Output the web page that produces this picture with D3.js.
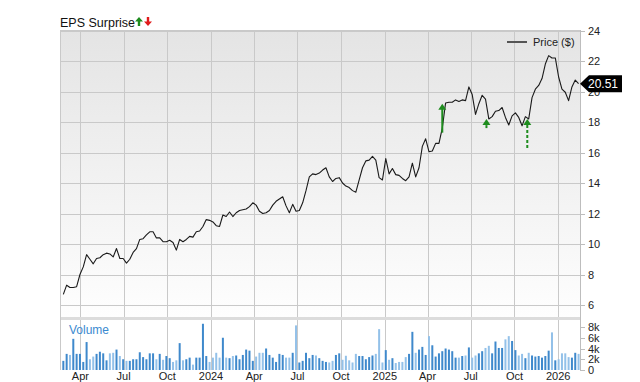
<!DOCTYPE html>
<html>
<head>
<meta charset="utf-8">
<script src="https://cdn.jsdelivr.net/npm/d3@7"></script>
<style>
  html, body { margin: 0; padding: 0; background: #fff; }
  svg { display: block; font-family: 'Liberation Sans', Arial, sans-serif; }
  .tick-label { font-size: 11px; fill: #222; }
</style>
</head>
<body>
<div id="chart"></div>
<script>
// weekly closes, first week ending 2023-02-24
const firstWeek = '2023-02-24'
const prices = [
  6.7, 7.3, 7.15, 7.15, 7.2, 8.0, 8.5, 9.3, 9.0, 8.7,
  9.05, 9.1, 9.3, 9.4, 9.35, 9.15, 9.7, 9.05, 9.05, 8.75,
  9.0, 9.45, 9.7, 10.3, 10.35, 10.6, 10.8, 10.8, 10.4, 10.4,
  10.15, 10.15, 10.25, 10.1, 9.6, 10.3, 10.15, 10.3, 10.5, 10.45,
  10.8, 10.85, 11.15, 11.6, 11.55, 11.45, 11.2, 11.15, 11.9, 11.8,
  12.1, 11.8, 12.05, 12.2, 12.25, 12.3, 12.45, 12.7, 12.55, 12.15,
  12.0, 12.05, 12.2, 12.55, 12.8, 12.95, 13.1, 12.5, 12.05, 12.6,
  12.15, 12.2, 12.7, 13.5, 14.4, 14.6, 14.55, 14.65, 14.85, 15.0,
  14.4, 14.1, 14.3, 14.35, 14.0, 13.8, 13.7, 13.5, 13.4, 14.2,
  15.0, 15.45, 15.5, 15.75, 15.5, 14.35, 14.2, 15.6, 14.6, 14.95,
  14.55, 14.5, 14.3, 14.15, 14.4, 15.3, 14.4, 15.0, 16.4, 16.9,
  16.05, 16.1, 16.6, 16.6, 17.6, 19.25, 19.3, 19.3, 19.45, 19.35,
  19.45, 19.4, 20.3, 19.8, 18.5, 19.2, 19.75, 19.5, 18.2, 18.35,
  18.7, 18.75, 18.95, 18.3, 17.8, 18.4, 18.6, 18.3, 17.75, 18.35,
  18.2, 19.6, 20.15, 20.4, 20.85, 21.8, 22.35, 22.2, 22.2, 20.95,
  20.15, 19.95, 19.4, 20.3, 20.75, 20.51,
]
// weekly volume, thousands
const volumeK = [
  1.7, 3.0, 2.8, 5.8, 3.0, 3.0, 1.5, 5.2, 2.0, 2.5,
  3.0, 3.4, 3.1, 1.8, 3.1, 3.2, 3.8, 2.6, 2.0, 1.7,
  1.7, 2.0, 2.0, 3.3, 2.4, 2.0, 3.1, 3.1, 2.0, 3.0,
  1.9, 2.6, 2.2, 1.5, 1.8, 5.0, 1.8, 2.0, 2.3, 1.0,
  2.3, 2.3, 8.6, 2.6, 1.5, 2.3, 3.2, 2.3, 6.0, 2.3,
  2.2, 2.6, 2.7, 2.0, 2.8, 3.8, 3.6, 1.7, 2.5, 3.2,
  3.2, 4.0, 2.8, 2.3, 1.5, 3.0, 2.8, 2.3, 2.3, 3.2,
  8.3, 1.4, 1.7, 3.2, 2.2, 2.8, 2.7, 2.2, 1.7, 1.5,
  1.4, 1.7, 2.8, 3.1, 1.9, 2.65, 1.8, 1.4, 3.0, 2.6,
  2.6, 2.0, 2.4, 2.7, 3.0, 7.6, 1.4, 3.7, 1.9, 2.2,
  1.3, 1.5, 1.5, 2.4, 3.0, 7.1, 3.2, 3.8, 4.3, 2.8,
  6.3, 4.6, 2.5, 3.1, 3.5, 4.0, 3.8, 3.5, 2.3, 2.3,
  2.6, 2.7, 4.2, 2.3, 2.7, 3.1, 3.5, 4.1, 4.5, 3.1,
  5.3, 4.1, 4.1, 5.7, 6.3, 5.4, 3.7, 2.7, 3.0, 2.2,
  3.2, 2.7, 2.5, 2.6, 2.3, 2.6, 3.6, 7.0, 1.8, 2.0,
  3.1, 3.1, 2.4, 2.3, 3.2, 3.0,
]
// EPS surprise arrows: date, price at base and tip
const epsDates = ['2025-05-02', '2025-08-03', '2025-10-28']
const epsFrom = [17.3, 17.6, 16.3]
const epsTo = [19.2, 18.2, 18.2]
const epsDashed = [false, true, true]

const priceTicks = [6, 8, 10, 12, 14, 16, 18, 20, 22, 24]
const volumeTicks = [0, 2, 4, 6, 8]

const width = 640
const height = 382
const plot = { left: 60, right: 580, top: 30, priceBottom: 318, volTop: 320, bottom: 370 }

const parse = d3.timeParse('%Y-%m-%d')
const start = parse(firstWeek)
const weeks = prices.map((p, i) => ({
  date: d3.timeDay.offset(start, 7 * i),
  price: p,
  vol: volumeK[i],
  up: i === 0 ? true : p >= prices[i - 1],
}))

const x = d3.scaleTime()
  .domain([parse('2023-02-17'), parse('2026-02-16')])
  .range([plot.left, plot.right])
const y = d3.scaleLinear().domain([6, 24]).range([305, 30.5])
const yVol = d3.scaleLinear().domain([0, 8]).range([plot.bottom, 327])

const svg = d3.select('#chart').append('svg').attr('width', width).attr('height', height)

const defs = svg.append('defs')
const grad = defs.append('linearGradient').attr('id', 'bg').attr('x1', 0).attr('x2', 0).attr('y1', 0).attr('y2', 1)
grad.append('stop').attr('offset', '0%').attr('stop-color', '#e4e4e4')
grad.append('stop').attr('offset', '100%').attr('stop-color', '#fefefe')

svg.append('rect')
  .attr('x', plot.left).attr('y', plot.top)
  .attr('width', plot.right - plot.left).attr('height', plot.priceBottom - plot.top)
  .attr('fill', 'url(#bg)')

// panel separator
svg.append('rect')
  .attr('x', plot.left).attr('y', plot.priceBottom - 1)
  .attr('width', plot.right - plot.left).attr('height', 3)
  .attr('fill', '#dcdcdc')

const gridColor = '#c9c9c9'

// horizontal grid in price panel
svg.append('g').selectAll('line').data(priceTicks).join('line')
  .attr('x1', plot.left).attr('x2', plot.right)
  .attr('y1', (d) => Math.round(y(d)) + 0.5).attr('y2', (d) => Math.round(y(d)) + 0.5)
  .attr('stroke', gridColor)

// vertical grid, quarters
const quarters = d3.timeMonth.every(3).range(x.domain()[0], x.domain()[1])
const vgrid = svg.append('g')
vgrid.selectAll('line.p').data(quarters).join('line').attr('class', 'p')
  .attr('x1', (d) => Math.round(x(d)) + 0.5).attr('x2', (d) => Math.round(x(d)) + 0.5)
  .attr('y1', plot.top).attr('y2', plot.priceBottom - 1)
  .attr('stroke', gridColor)
vgrid.selectAll('line.v').data(quarters).join('line').attr('class', 'v')
  .attr('x1', (d) => Math.round(x(d)) + 0.5).attr('x2', (d) => Math.round(x(d)) + 0.5)
  .attr('y1', plot.volTop).attr('y2', plot.bottom)
  .attr('stroke', gridColor)

// frame
svg.append('line').attr('x1', plot.left + 0.5).attr('x2', plot.left + 0.5)
  .attr('y1', plot.top).attr('y2', plot.bottom).attr('stroke', gridColor)
svg.append('line').attr('x1', plot.left).attr('x2', plot.right)
  .attr('y1', plot.top + 0.5).attr('y2', plot.top + 0.5).attr('stroke', gridColor)
svg.append('line').attr('x1', plot.right + 0.5).attr('x2', plot.right + 0.5)
  .attr('y1', plot.top).attr('y2', plot.bottom).attr('stroke', '#bdbdbd')

// volume bars
svg.append('g').selectAll('rect').data(weeks).join('rect')
  .attr('x', (d) => x(d.date) - 1)
  .attr('width', 2)
  .attr('y', (d) => yVol(d.vol))
  .attr('height', (d) => plot.bottom - yVol(d.vol))
  .attr('fill', (d) => (d.up ? '#3f89cc' : '#93c1e9'))

svg.append('text').attr('x', 69).attr('y', 334)
  .attr('font-size', 12).attr('fill', '#3b8ad0').text('Volume')

// price line
const line = d3.line().x((d) => x(d.date)).y((d) => y(d.price))
svg.append('path').datum(weeks)
  .attr('d', line)
  .attr('fill', 'none')
  .attr('stroke', '#1a1a1a')
  .attr('stroke-width', 1.1)
  .attr('stroke-linejoin', 'round')

// eps arrows
const eps = epsDates.map((d, i) => ({ date: parse(d), from: epsFrom[i], to: epsTo[i], dashed: epsDashed[i] }))
const epsG = svg.append('g').selectAll('g').data(eps).join('g')
epsG.append('line')
  .attr('x1', (d) => x(d.date)).attr('x2', (d) => x(d.date))
  .attr('y1', (d) => y(d.from)).attr('y2', (d) => y(d.to) + 5)
  .attr('stroke', '#1e8c1e').attr('stroke-width', 2)
  .attr('stroke-dasharray', (d) => (d.dashed ? '3,2' : null))
epsG.append('path')
  .attr('d', (d) => {
    const cx = x(d.date)
    const ty = y(d.to)
    return `M${cx},${ty}L${cx + 4},${ty + 6}L${cx - 4},${ty + 6}Z`
  })
  .attr('fill', '#1e8c1e')

// right price axis
const axisColor = '#bdbdbd'
const pAxis = svg.append('g')
pAxis.selectAll('line').data(priceTicks).join('line')
  .attr('x1', plot.right).attr('x2', plot.right + 5)
  .attr('y1', (d) => Math.round(y(d)) + 0.5).attr('y2', (d) => Math.round(y(d)) + 0.5)
  .attr('stroke', axisColor)
pAxis.selectAll('text').data(priceTicks).join('text')
  .attr('class', 'tick-label')
  .attr('x', plot.right + 8).attr('y', (d) => y(d) + 4)
  .text((d) => d)

const vAxis = svg.append('g')
vAxis.selectAll('line').data(volumeTicks).join('line')
  .attr('x1', plot.right).attr('x2', plot.right + 5)
  .attr('y1', (d) => Math.round(yVol(d)) + 0.5).attr('y2', (d) => Math.round(yVol(d)) + 0.5)
  .attr('stroke', axisColor)
vAxis.selectAll('text').data(volumeTicks).join('text')
  .attr('class', 'tick-label')
  .attr('x', plot.right + 8).attr('y', (d) => yVol(d) + 4)
  .text((d) => (d === 0 ? '0' : `${d}k`))

// bottom axis labels
const fmt = (d) => (d.getMonth() === 0 ? d3.timeFormat('%Y')(d) : d3.timeFormat('%b')(d))
svg.append('g').selectAll('text').data(quarters).join('text')
  .attr('class', 'tick-label')
  .attr('x', (d) => x(d)).attr('y', 380)
  .attr('text-anchor', 'middle')
  .text(fmt)

// last price tag
const last = weeks[weeks.length - 1]
const ly = y(last.price)
svg.append('path')
  .attr('d', `M${plot.right},${ly}L${plot.right + 9},${ly - 8.5}L${622},${ly - 8.5}L${622},${ly + 8.5}L${plot.right + 9},${ly + 8.5}Z`)
  .attr('fill', '#000')
svg.append('text').attr('x', 603).attr('y', ly + 4.5)
  .attr('text-anchor', 'middle').attr('font-size', 12).attr('fill', '#fff')
  .text(last.price.toFixed(2))

// legend
svg.append('line').attr('x1', 507).attr('x2', 527).attr('y1', 42).attr('y2', 42)
  .attr('stroke', '#555').attr('stroke-width', 2)
svg.append('text').attr('x', 533).attr('y', 46).attr('font-size', 11).attr('fill', '#222').text('Price ($)')

// title
svg.append('text').attr('x', 60).attr('y', 27).attr('font-size', 12.5).attr('fill', '#111').text('EPS Surprise')
const titleArrows = svg.append('g')
titleArrows.append('path').attr('d', 'M139,17L143,21.5L140.2,21.5L140.2,26L137.8,26L137.8,21.5L135,21.5Z').attr('fill', '#1e8c1e')
titleArrows.append('path').attr('d', 'M148,26L152,21.5L149.2,21.5L149.2,17L146.8,17L146.8,21.5L144,21.5Z').attr('fill', '#e01b1b')
</script>
</body>
</html>
